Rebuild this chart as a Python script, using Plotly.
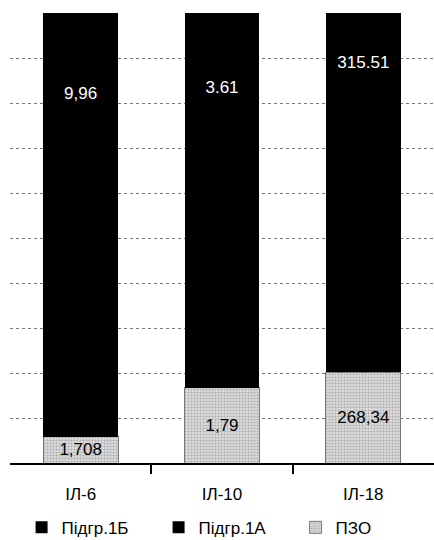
import plotly.graph_objects as go

# Data (segment shares in % of bar height, labels as printed)
categories = ["ІЛ-6", "ІЛ-10", "ІЛ-18"]
pzo_share = [5.8, 16.7, 20.2]
sub1a_share = [58.6, 50.4, 57.8]
sub1b_share = [35.6, 32.9, 22.0]
pzo_labels = ["1,708", "1,79", "268,34"]
sub1b_labels = ["9,96", "3.61", "315.51"]

FONT = "Liberation Sans, Arial, Helvetica, sans-serif"
xpos = list(range(len(categories)))
boundaries = [i + 0.5 for i in xpos[:-1]]

fig = go.Figure()
fig.add_trace(go.Bar(
    x=xpos, y=pzo_share, name="ПЗО",
    text=pzo_labels, textposition="inside", insidetextanchor="middle",
    textangle=0, textfont=dict(color="black", size=17, family=FONT),
    marker=dict(color="#dedede", line=dict(color="#777", width=1),
                pattern=dict(shape=".", fgcolor="#7a7a7a", size=3, solidity=0.4)),
    width=0.53,
))
fig.add_trace(go.Bar(
    x=xpos, y=sub1a_share, name="Підгр.1А",
    marker=dict(color="black", line=dict(color="black", width=0)),
    width=0.53,
))
fig.add_trace(go.Bar(
    x=xpos, y=sub1b_share, name="Підгр.1Б",
    text=sub1b_labels, textposition="inside", insidetextanchor="middle",
    textangle=0, textfont=dict(color="white", size=17, family=FONT),
    marker=dict(color="black", line=dict(color="black", width=0)),
    width=0.53,
))

fig.update_layout(
    width=434, height=540,
    margin=dict(l=10, r=0, t=13, b=77, autoexpand=False),
    barmode="stack",
    paper_bgcolor="white", plot_bgcolor="white",
    font=dict(family=FONT, size=17, color="black"),
    uniformtext=dict(minsize=17, mode="show"),
    showlegend=True,
    legend=dict(orientation="h", x=0.512, xanchor="center", y=-0.144, yanchor="middle",
                traceorder="reversed", font=dict(size=17, family=FONT),
                entrywidth=92, bgcolor="rgba(0,0,0,0)"),
)
fig.update_xaxes(
    range=[-0.5, 2.5], showline=True, linecolor="black", linewidth=1.5,
    tickmode="array", tickvals=xpos, ticktext=categories, ticks="",
    ticklabelstandoff=15, automargin=False,
    minor=dict(tickmode="array", tickvals=boundaries, ticks="outside", ticklen=9,
               tickwidth=1.5, tickcolor="black", showgrid=False),
    showgrid=False, zeroline=False, tickfont=dict(size=17, family=FONT),
)
fig.update_yaxes(
    range=[0, 100], dtick=10, showticklabels=False, showline=False,
    showgrid=True, gridcolor="#777", griddash="dot", gridwidth=1, zeroline=False,
)

fig.write_html("out.html")
